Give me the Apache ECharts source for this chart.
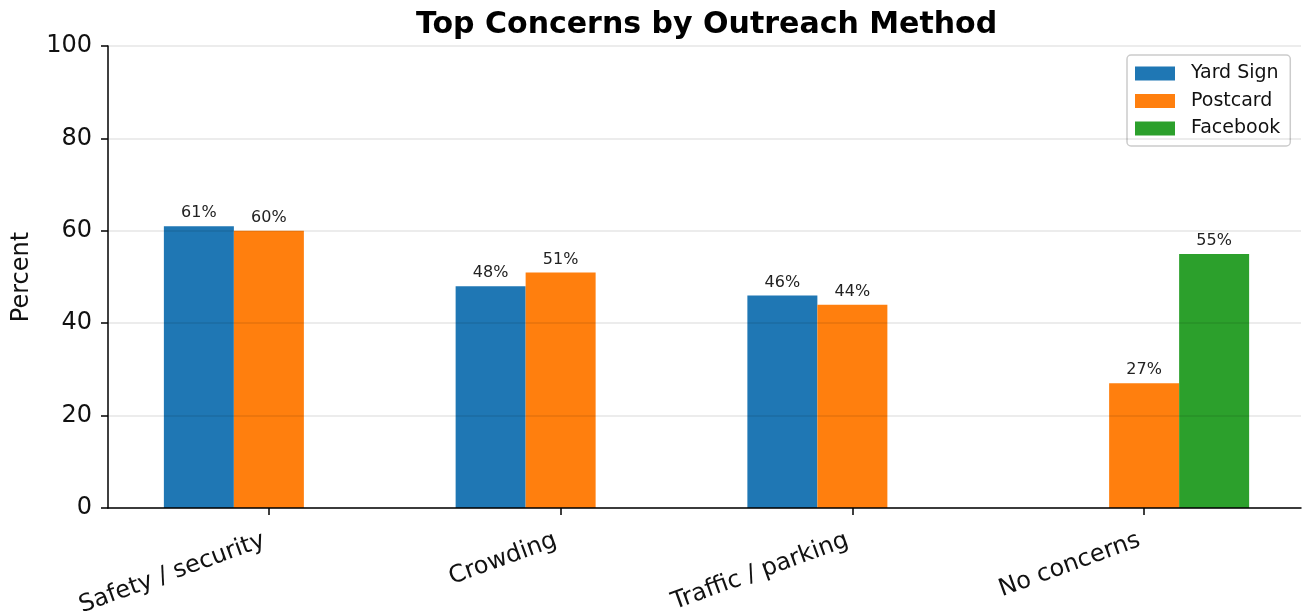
<!DOCTYPE html>
<html>
<head>
<meta charset="utf-8">
<script src="https://cdn.jsdelivr.net/npm/echarts@6/dist/echarts.min.js"></script>
<style>
  html, body { margin: 0; padding: 0; background: #fff; }
  #chart { width: 1302px; height: 611px; }
</style>
</head>
<body>
<div id="chart"></div>
<script>
// 图表数据
const categories = ['Safety / security', 'Crowding', 'Traffic / parking', 'No concerns'];
const yardSign = [61, 48, 46, null];
const postcard = [60, 51, 44, 27];
const facebook = [null, null, null, 55];
const yTicks = [0, 20, 40, 60, 80, 100];

const FONT = 'DejaVu Sans';
const chart = echarts.init(document.getElementById('chart'));

const barLabel = {
    show: true,
    position: 'top',
    distance: 5,
    fontFamily: FONT,
    fontSize: 16,
    color: '#222',
    formatter: (p) => p.value + '%'
};

const makeBar = (name, data, color) => ({
    name: name,
    type: 'bar',
    xAxisIndex: 0,
    yAxisIndex: 0,
    data: data,
    barWidth: 70,
    barGap: '0%',
    itemStyle: { color: color },
    label: barLabel
});

const option = {
    animation: false,
    title: {
        text: 'Top Concerns by Outreach Method',
        left: 411,
        top: 5,
        textStyle: { fontFamily: FONT, fontSize: 30, fontWeight: 'bold', color: '#000' }
    },
    legend: {
        left: 1127,
        top: 55,
        orient: 'vertical',
        itemWidth: 40,
        itemHeight: 14,
        itemGap: 8.5,
        padding: [9, 10, 8, 8],
        backgroundColor: '#fff',
        borderColor: '#cccccc',
        borderWidth: 1.5,
        borderRadius: 4,
        icon: 'rect',
        textStyle: { fontFamily: FONT, fontSize: 19, lineHeight: 19, color: '#111', padding: [0, 0, 0, 11] },
        data: ['Yard Sign', 'Postcard', 'Facebook']
    },
    grid: [
        // 柱子所在的网格
        { left: 123, right: 12, top: 46, bottom: 103, outerBoundsMode: 'none', containLabel: false },
        // 坐标轴框架网格
        { left: 108, right: 1, top: 46, bottom: 103, outerBoundsMode: 'none', containLabel: false }
    ],
    xAxis: [
        {
            type: 'category',
            gridIndex: 0,
            data: categories,
            axisLine: { show: false },
            axisTick: { show: true, alignWithLabel: true, length: 7, lineStyle: { color: '#000', width: 1.5 } },
            axisLabel: { rotate: 20, margin: 30, padding: [0, 5, 0, 0], fontFamily: FONT, fontSize: 24, color: '#111', interval: 0 },
            splitLine: { show: false }
        },
        {
            type: 'value',
            gridIndex: 1,
            min: 0,
            max: 1,
            z: 5,
            axisLine: { show: true, lineStyle: { color: '#000', width: 1.5 } },
            axisTick: { show: false },
            axisLabel: { show: false },
            splitLine: { show: false }
        }
    ],
    yAxis: [
        {
            type: 'value',
            gridIndex: 0,
            min: 0,
            max: 100,
            show: false
        },
        {
            type: 'value',
            gridIndex: 1,
            min: yTicks[0],
            max: yTicks[yTicks.length - 1],
            interval: 20,
            name: 'Percent',
            nameLocation: 'middle',
            nameGap: 74,
            nameTextStyle: { fontFamily: FONT, fontSize: 24, color: '#111' },
            z: 5,
            axisLine: { show: true, lineStyle: { color: '#000', width: 1.5 } },
            axisTick: { show: true, length: 7, lineStyle: { color: '#000', width: 1.5 } },
            axisLabel: { margin: 16, fontFamily: FONT, fontSize: 24, color: '#111' },
            splitLine: { show: true, lineStyle: { color: 'rgba(0,0,0,0.1)', width: 1.5 } }
        }
    ],
    series: [
        makeBar('Yard Sign', yardSign, '#1f77b4'),
        makeBar('Postcard', postcard, '#ff7f0e'),
        makeBar('Facebook', facebook, '#2ca02c')
    ]
};

chart.setOption(option);
</script>
</body>
</html>
